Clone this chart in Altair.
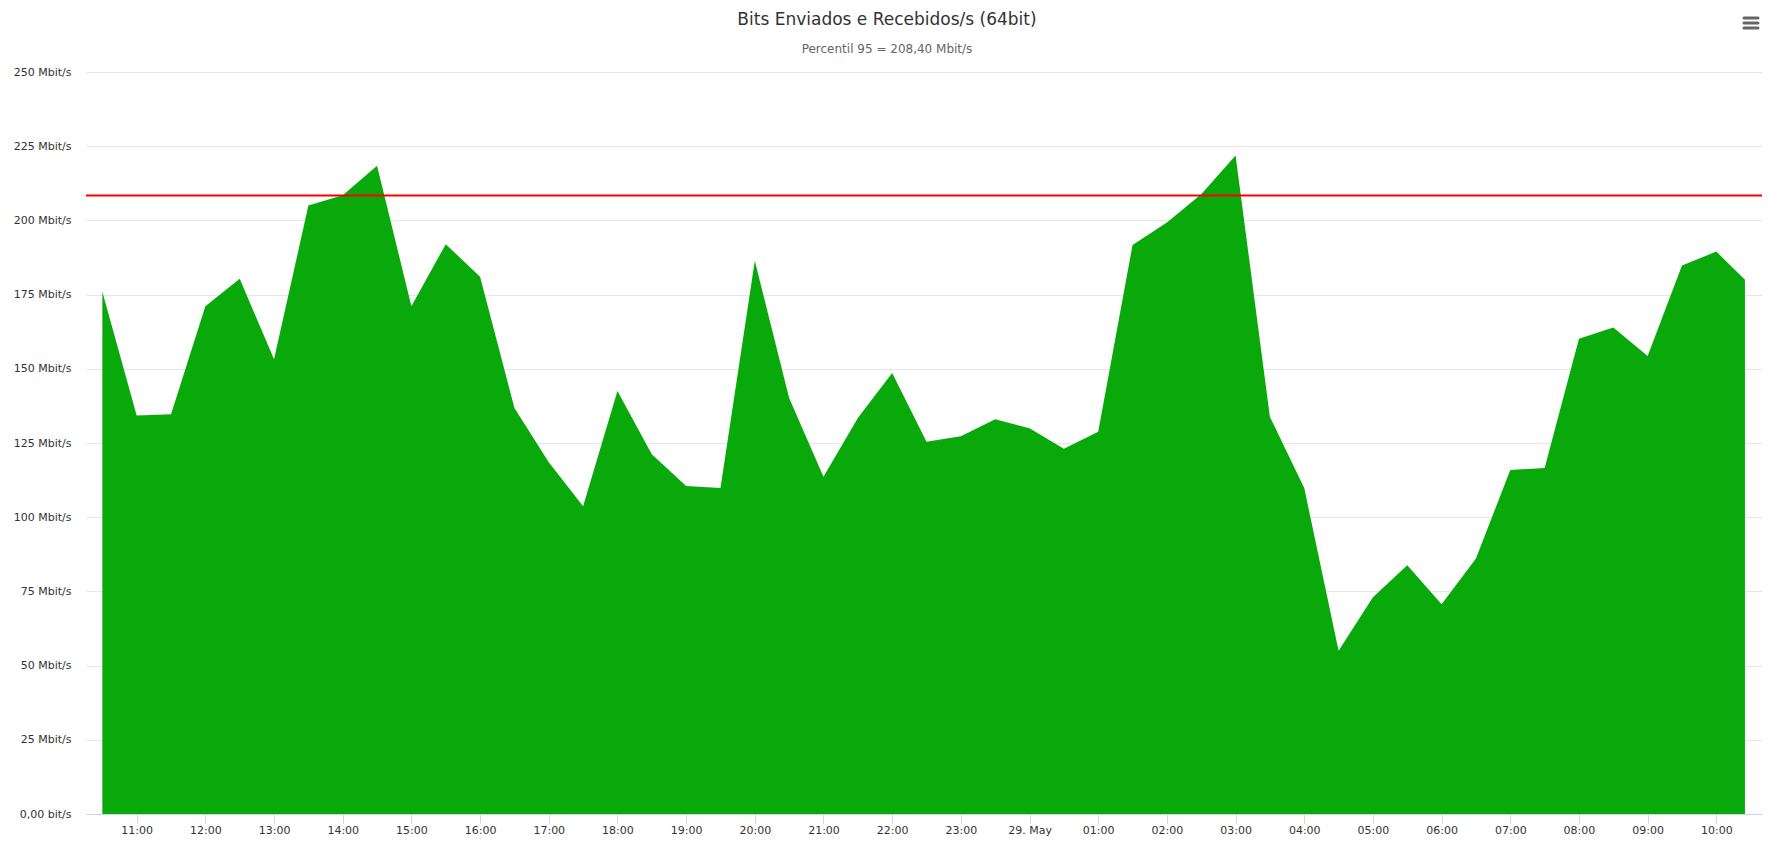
import altair as alt
import pandas as pd

# ---- data ----
times = ["10:30", "11:00", "11:30", "12:00", "12:30", "13:00", "13:30", "14:00",
         "14:30", "15:00", "15:30", "16:00", "16:30", "17:00", "17:30", "18:00",
         "18:30", "19:00", "19:30", "20:00", "20:30", "21:00", "21:30", "22:00",
         "22:30", "23:00", "23:30", "00:00", "00:30", "01:00", "01:30", "02:00",
         "02:30", "03:00", "03:30", "04:00", "04:30", "05:00", "05:30", "06:00",
         "06:30", "07:00", "07:30", "08:00", "08:30", "09:00", "09:30", "10:00",
         "10:25"]
values = [176.0, 134.3, 134.7, 171.1, 180.3, 153.2, 205.0, 208.5,
          218.4, 171.1, 192.0, 181.0, 136.8, 118.5, 103.7, 142.5,
          121.2, 110.5, 109.8, 186.4, 140.2, 113.6, 133.4, 148.6,
          125.4, 127.3, 133.0, 130.0, 123.1, 128.8, 191.7, 199.3,
          208.8, 221.9, 133.8, 109.8, 55.0, 73.0, 83.8, 70.7,
          86.1, 115.9, 116.6, 160.1, 163.9, 154.3, 184.8, 189.5,
          180.0]
percentile_95 = 208.40
y_ticks = [0, 25, 50, 75, 100, 125, 150, 175, 200, 225, 250]
x_tick_hours = list(range(11, 35))  # 11:00 (28 May) .. 10:00 (29 May)

title_text = "Bits Enviados e Recebidos/s (64bit)"
subtitle_text = "Percentil 95 = 208,40 Mbit/s"

# hours counted from 28 May 00:00
hours = []
day = 0
prev = -1.0
for t in times:
    h, m = map(int, t.split(":"))
    v = h + m / 60 + 24 * day
    if v < prev:
        day += 1
        v += 24
    prev = v
    hours.append(v)

df = pd.DataFrame({"hora": hours, "valor": values, "rotulo": times})
p95_df = pd.DataFrame({"valor": [percentile_95]})
icon_df = pd.DataFrame({"icone": [1]})

x_scale = alt.Scale(domain=[10.262, 34.665], nice=False, zero=False)
y_scale = alt.Scale(domain=[0, 250], nice=False)

x_axis = alt.Axis(
    values=x_tick_hours,
    labelExpr="datum.value == 24 ? '29. May' : ((datum.value % 24) < 10 ? '0' : '') + (datum.value % 24) + ':00'",
    grid=False,
    domainColor="#ccd6eb",
    tickColor="#ccd6eb",
    tickSize=9,
    labelPadding=1,
    labelFontSize=11,
    labelColor="#333333",
    labelFlush=False,
    labelOverlap=False,
    title=None,
    zindex=1,
)
y_axis = alt.Axis(
    values=y_ticks,
    labelExpr="datum.value == 0 ? '0,00 bit/s' : datum.value + ' Mbit/s'",
    grid=True,
    gridColor="#e6e6e6",
    domain=False,
    ticks=False,
    labelPadding=15,
    labelFontSize=11,
    labelColor="#333333",
    title=None,
)

area = alt.Chart(df).mark_area(color="#09a80b", opacity=1, interpolate="linear").encode(
    x=alt.X("hora:Q", scale=x_scale, axis=x_axis),
    y=alt.Y("valor:Q", scale=y_scale, axis=y_axis),
)

rule = alt.Chart(p95_df).mark_rule(color="#ff0000", strokeWidth=2).encode(
    y=alt.Y("valor:Q", scale=y_scale, axis=y_axis)
)

icon_layers = []
for yy in (-54, -49, -44):
    icon_layers.append(
        alt.Chart(icon_df)
        .mark_rule(color="#666666", strokeWidth=3, strokeCap="round")
        .encode(x=alt.value(1658), x2=alt.value(1672), y=alt.value(yy))
    )

chart = (
    alt.layer(area, rule, *icon_layers)
    .properties(
        width=1676,
        height=742,
        title=alt.TitleParams(
            text=title_text,
            subtitle=subtitle_text,
            font="DejaVu Sans",
            fontSize=17,
            fontWeight="normal",
            color="#333333",
            subtitleFont="DejaVu Sans",
            subtitleFontSize=12,
            subtitleColor="#666666",
            subtitlePadding=15,
            anchor="middle",
            frame="group",
            dx=-37,
            offset=-39.5,
        ),
        autosize=alt.AutoSizeParams(type="none"),
        padding={"left": 78, "top": 64, "right": 1, "bottom": 25},
    )
    .configure(font="DejaVu Sans")
    .configure_view(stroke=None)
)

chart.save("out.html", embed_options={"renderer": "svg", "actions": False})
